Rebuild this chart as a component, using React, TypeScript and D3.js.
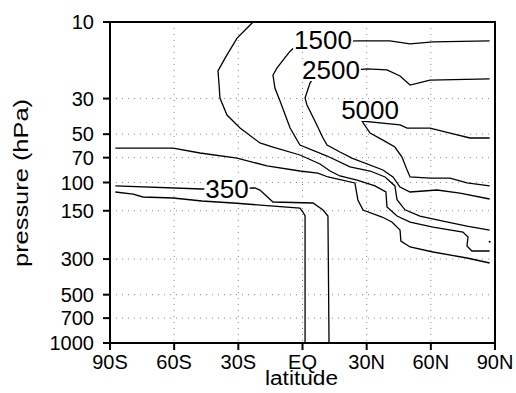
import React, { useEffect, useRef } from 'react'
import * as d3 from 'd3'

// latitude / pressure (hPa) axes
const latTicks = [-90, -60, -30, 0, 30, 60, 90]
const latLabels = ['90S', '60S', '30S', 'EQ', '30N', '60N', '90N']
const pTicks = [10, 30, 50, 70, 100, 150, 300, 500, 700, 1000]

// contour lines, [lat, pressure]
const c300: [number, number][] = [
  [-87.5, 114.6], [-79.2, 118.0], [-74.6, 123.1], [-60.5, 124.9], [-47.0, 130.4],
  [-32.5, 134.2], [-1.2, 144.2], [0.2, 152.7], [1.2, 161.7], [1.2, 1000]
]
const c350: [number, number][] = [
  [-87.5, 105.1], [-47.0, 109.8], [-22.2, 108.2], [-19.9, 111.4], [-13.8, 132.3],
  [4.9, 134.2], [9.6, 148.4], [11.9, 161.7], [12.4, 1000]
]
const c500: [number, number][] = [
  [-87.5, 61.0], [-60.5, 61.0], [-47.9, 65.5], [-30.6, 70.4], [-16.6, 78.9],
  [-1.2, 84.8], [7.2, 87.3], [11.9, 92.4], [24.5, 100.7], [25.9, 128.5],
  [28.3, 148.4], [37.2, 164.1], [41.8, 176.3], [45.6, 197.7], [46.0, 231.5],
  [50.3, 252.2], [61.0, 271.0], [76.9, 295.4], [87.5, 317.4]
]
const c1000: [number, number][] = [
  [-23.1, 10], [-30.6, 12.6], [-36.2, 16.8], [-39.5, 20.2], [-39.0, 24.7],
  [-38.6, 29.8], [-35.3, 38.0], [-29.2, 45.8], [-19.9, 56.7], [-13.8, 60.1],
  [-1.2, 67.4], [8.2, 76.7], [12.9, 84.8], [17.5, 91.1], [25.5, 96.5],
  [33.9, 105.1], [39.0, 114.6], [39.5, 142.1], [44.2, 161.7], [50.3, 176.3],
  [61.0, 189.4], [75.0, 203.4], [77.4, 218.6], [76.9, 248.6], [79.2, 267.2],
  [87.5, 267.2]
]
const c1500: [number, number][] = [
  [87.5, 13.1], [61.0, 13.3], [50.3, 13.7], [40.9, 13.1], [25.9, 13.1],
  [10.5, 13.3], [-3.5, 14.3], [-5.8, 15.2], [-11.9, 19.3], [-13.8, 21.4],
  [-12.9, 25.8], [-10.5, 31.1], [-5.8, 45.8], [-1.2, 58.4], [11.5, 68.4],
  [22.2, 80.0], [31.6, 84.8], [38.6, 92.4], [43.2, 105], [44.2, 128],
  [47.9, 148], [54.9, 162], [65.7, 174], [76.9, 187], [87.5, 198]
]
const c2500: [number, number][] = [
  [87.5, 22.6], [59.6, 23.0], [50.3, 24.7], [45.6, 21.7], [39.5, 19.9],
  [30.2, 19.6], [12.9, 20.5], [4.4, 23.0], [3.5, 24.0], [1.2, 29.8],
  [2.1, 32.9], [5.8, 41.4], [9.6, 52.8], [11.5, 58.4], [17.5, 64.6],
  [23.1, 70.4], [37.6, 83.6], [42.3, 92.4], [45.6, 106.7], [50.3, 114.6],
  [62.9, 111.4], [73.6, 116.3], [87.5, 126.7]
]
const c5000: [number, number][] = [
  [87.5, 52.8], [78.3, 52.8], [69.0, 49.2], [59.6, 45.8], [48.9, 45.8],
  [45.6, 43.8], [27.8, 41.4], [31.6, 49.2], [37.6, 54.4], [43.2, 60.1],
  [46.5, 69.4], [48.9, 83.6], [50.3, 92.4], [59.6, 93.8], [69.0, 93.8],
  [76.9, 100.7], [87.5, 105.1]
]
const contours = [c300, c350, c500, c1000, c1500, c2500, c5000]

// contour labels: text, lat, pressure
const labelText = ['1500', '2500', '5000', '350']
const labelLat = [9.6, 13.3, 31.6, -35.3]
const labelP = [12.8, 19.9, 35.3, 109.8]

export default function App() {
  const svgRef = useRef<SVGSVGElement>(null)

  useEffect(() => {
    if (!svgRef.current) return
    const svg = d3.select(svgRef.current)
    svg.selectAll('*').remove()

    const left = 110, right = 495, top = 22, bottom = 343
    const x = d3.scaleLinear().domain([-90, 90]).range([left, right])
    const y = d3.scaleLog().domain([1000, 10]).range([bottom, top])
    const font = '"Liberation Sans", Arial, sans-serif'

    svg.append('rect').attr('width', 516).attr('height', 393).attr('fill', 'white')

    // dotted grid
    const grid = svg.append('g')
      .attr('stroke', '#888')
      .attr('stroke-width', 1)
      .attr('stroke-dasharray', '1,5')
    latTicks.slice(1, -1).forEach(t => {
      grid.append('line')
        .attr('x1', x(t)).attr('x2', x(t))
        .attr('y1', top).attr('y2', bottom)
    })
    pTicks.slice(1, -1).forEach(t => {
      grid.append('line')
        .attr('x1', left).attr('x2', right)
        .attr('y1', y(t)).attr('y2', y(t))
    })

    // contours
    const line = d3.line<[number, number]>()
      .x(d => x(d[0]))
      .y(d => y(d[1]))
    svg.append('g')
      .selectAll('path')
      .data(contours)
      .enter()
      .append('path')
      .attr('d', d => line(d))
      .attr('fill', 'none')
      .attr('stroke', 'black')
      .attr('stroke-width', 1.3)

    // tiny closed contour near 90N
    svg.append('circle')
      .attr('cx', x(87.5)).attr('cy', y(234))
      .attr('r', 1).attr('fill', 'black')

    // contour labels with white mask
    labelText.forEach((t, i) => {
      const lg = svg.append('g')
      const txt = lg.append('text')
        .attr('x', x(labelLat[i]))
        .attr('y', y(labelP[i]))
        .attr('dy', '0.36em')
        .attr('text-anchor', 'middle')
        .attr('font-family', font)
        .attr('font-size', 26)
        .attr('fill', 'black')
        .text(t)
      const bb = (txt.node() as SVGTextElement).getBBox()
      lg.insert('rect', 'text')
        .attr('x', bb.x - 1)
        .attr('y', y(labelP[i]) - 11)
        .attr('width', bb.width + 2)
        .attr('height', 22)
        .attr('fill', 'white')
    })

    // frame
    svg.append('rect')
      .attr('x', left).attr('y', top)
      .attr('width', right - left).attr('height', bottom - top)
      .attr('fill', 'none')
      .attr('stroke', 'black')
      .attr('stroke-width', 2)

    // y ticks + labels
    const yAx = svg.append('g')
    pTicks.forEach(t => {
      yAx.append('line')
        .attr('x1', left - 7).attr('x2', left)
        .attr('y1', y(t)).attr('y2', y(t))
        .attr('stroke', 'black').attr('stroke-width', 2)
      yAx.append('text')
        .attr('x', 94)
        .attr('y', y(t) + 7)
        .attr('text-anchor', 'end')
        .attr('font-family', font)
        .attr('font-size', 20)
        .text(String(t))
    })

    // x ticks + labels
    const xAx = svg.append('g')
    latTicks.forEach((t, i) => {
      xAx.append('line')
        .attr('x1', x(t)).attr('x2', x(t))
        .attr('y1', bottom).attr('y2', bottom + 7)
        .attr('stroke', 'black').attr('stroke-width', 2)
      xAx.append('text')
        .attr('x', x(t))
        .attr('y', 369)
        .attr('text-anchor', 'middle')
        .attr('font-family', font)
        .attr('font-size', 20)
        .text(latLabels[i])
    })

    // axis titles
    svg.append('text')
      .attr('x', (left + right) / 2 - 1)
      .attr('y', 385)
      .attr('text-anchor', 'middle')
      .attr('font-family', font)
      .attr('font-size', 20)
      .attr('textLength', 73)
      .attr('lengthAdjust', 'spacingAndGlyphs')
      .text('latitude')

    svg.append('text')
      .attr('transform', 'translate(28,183) rotate(-90)')
      .attr('text-anchor', 'middle')
      .attr('font-family', font)
      .attr('font-size', 20)
      .attr('textLength', 168)
      .attr('lengthAdjust', 'spacingAndGlyphs')
      .text('pressure (hPa)')
  }, [])

  return (
    <svg
      ref={svgRef}
      width={516}
      height={393}
      style={{ position: 'absolute', left: 0, top: 0 }}
    />
  )
}
